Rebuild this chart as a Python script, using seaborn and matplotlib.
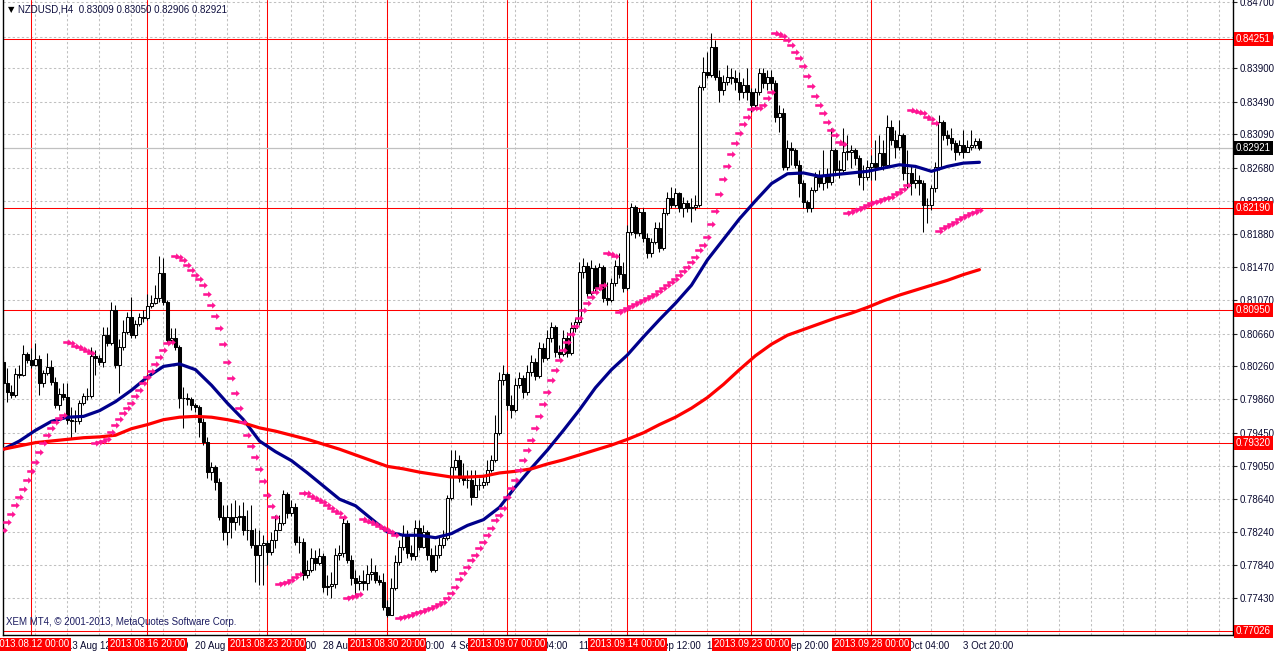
import numpy as np
import pandas as pd
import matplotlib
matplotlib.use("Agg")
import matplotlib.pyplot as plt
from matplotlib.path import Path
import seaborn as sns

sns.set_style("white")
plt.rcParams['font.family'] = ['Liberation Sans', 'DejaVu Sans']

# NZDUSD H4 candles (open of each bar = previous close)
first_open = 0.8031
close = [0.8006, 0.7995, 0.7991, 0.8017, 0.8016, 0.8041, 0.8034, 0.8028, 0.8035, 0.8006,
         0.8018, 0.8025, 0.8007, 0.7979, 0.7992, 0.7989, 0.7961, 0.7959, 0.7959, 0.7981,
         0.7990, 0.7990, 0.8039, 0.8036, 0.8031, 0.8064, 0.8055, 0.8095, 0.8028, 0.8050,
         0.8068, 0.8086, 0.8064, 0.8078, 0.8086, 0.8085, 0.8100, 0.8103, 0.8109, 0.8140,
         0.8105, 0.8058, 0.8061, 0.8050, 0.7987, 0.7987, 0.7986, 0.7979, 0.7976, 0.7958,
         0.7934, 0.7897, 0.7903, 0.7885, 0.7842, 0.7824, 0.7842, 0.7836, 0.7842, 0.7843,
         0.7826, 0.7826, 0.7808, 0.7796, 0.7808, 0.7811, 0.7800, 0.7814, 0.7826, 0.7835,
         0.7870, 0.7847, 0.7854, 0.7812, 0.7812, 0.7772, 0.7778, 0.7792, 0.7786, 0.7795,
         0.7757, 0.7758, 0.7761, 0.7796, 0.7798, 0.7835, 0.7790, 0.7768, 0.7762, 0.7764,
         0.7762, 0.7773, 0.7775, 0.7765, 0.7763, 0.7732, 0.7723, 0.7756, 0.7787, 0.7806,
         0.7820, 0.7798, 0.7795, 0.7829, 0.7806, 0.7824, 0.7796, 0.7778, 0.7796, 0.7808,
         0.7817, 0.7865, 0.7903, 0.7912, 0.7890, 0.7887, 0.7887, 0.7867, 0.7881, 0.7881,
         0.7885, 0.7900, 0.7912, 0.7945, 0.8009, 0.8017, 0.7979, 0.7973, 0.8003, 0.8012,
         0.7995, 0.8019, 0.8031, 0.8014, 0.8048, 0.8036, 0.8061, 0.8074, 0.8044, 0.8041,
         0.8061, 0.8042, 0.8073, 0.8080, 0.8141, 0.8148, 0.8116, 0.8146, 0.8122, 0.8147,
         0.8109, 0.8107, 0.8128, 0.8148, 0.8139, 0.8122, 0.8190, 0.8220, 0.8189, 0.8214,
         0.8183, 0.8164, 0.8178, 0.8195, 0.8170, 0.8213, 0.8231, 0.8223, 0.8238, 0.8219,
         0.8225, 0.8219, 0.8220, 0.8223, 0.8367, 0.8385, 0.8382, 0.8416, 0.8379, 0.8363,
         0.8373, 0.8379, 0.8378, 0.8373, 0.8361, 0.8369, 0.8361, 0.8345, 0.8361, 0.8384,
         0.8372, 0.8379, 0.8372, 0.8330, 0.8335, 0.8269, 0.8292, 0.8290, 0.8272, 0.8250,
         0.8227, 0.8219, 0.8241, 0.8257, 0.8250, 0.8260, 0.8251, 0.8290, 0.8266, 0.8266,
         0.8288, 0.8288, 0.8290, 0.8280, 0.8257, 0.8257, 0.8269, 0.8274, 0.8269, 0.8286,
         0.8272, 0.8318, 0.8302, 0.8294, 0.8308, 0.8262, 0.8262, 0.8250, 0.8253, 0.8250,
         0.8223, 0.8223, 0.8244, 0.8269, 0.8324, 0.8308, 0.8305, 0.8299, 0.8288, 0.8296,
         0.8288, 0.8294, 0.8296, 0.83009, 0.82921]
high = [0.8039, 0.8024, 0.8003, 0.8024, 0.8028, 0.8052, 0.8044, 0.8048, 0.8055, 0.8040,
        0.8022, 0.8042, 0.8034, 0.8013, 0.8000, 0.8006, 0.8006, 0.7976, 0.7973, 0.7985,
        0.7994, 0.8000, 0.8050, 0.8046, 0.8040, 0.8074, 0.8074, 0.8105, 0.8101, 0.8059,
        0.8083, 0.8092, 0.8111, 0.8083, 0.8091, 0.8095, 0.8114, 0.8113, 0.8125, 0.8161,
        0.8158, 0.8107, 0.8073, 0.8073, 0.8052, 0.8001, 0.7994, 0.7989, 0.7981, 0.7979,
        0.7963, 0.7940, 0.7909, 0.7906, 0.7890, 0.7857, 0.7857, 0.7859, 0.7863, 0.7857,
        0.7861, 0.7851, 0.7857, 0.7829, 0.7826, 0.7820, 0.7814, 0.7824, 0.7845, 0.7845,
        0.7875, 0.7873, 0.7863, 0.7859, 0.7819, 0.7817, 0.7790, 0.7804, 0.7802, 0.7804,
        0.7798, 0.7772, 0.7775, 0.7804, 0.7808, 0.7841, 0.7839, 0.7796, 0.7778, 0.7772,
        0.7778, 0.7784, 0.7792, 0.7784, 0.7772, 0.7774, 0.7741, 0.7768, 0.7796, 0.7814,
        0.7832, 0.7826, 0.7808, 0.7839, 0.7839, 0.7832, 0.7826, 0.7804, 0.7808, 0.7818,
        0.7826, 0.7869, 0.7924, 0.7924, 0.7918, 0.7908, 0.7900, 0.7900, 0.7900, 0.7890,
        0.7894, 0.7912, 0.7918, 0.7967, 0.8019, 0.8028, 0.8019, 0.7991, 0.8012, 0.8019,
        0.8016, 0.8028, 0.8040, 0.8036, 0.8056, 0.8055, 0.8070, 0.8080, 0.8077, 0.8052,
        0.8070, 0.8068, 0.8080, 0.8085, 0.8153, 0.8158, 0.8153, 0.8156, 0.8150, 0.8152,
        0.8150, 0.8129, 0.8134, 0.8156, 0.8164, 0.8153, 0.8199, 0.8225, 0.8223, 0.8219,
        0.8219, 0.8189, 0.8183, 0.8202, 0.8202, 0.8219, 0.8239, 0.8245, 0.8244, 0.8239,
        0.8233, 0.8229, 0.8231, 0.8235, 0.8369, 0.8403, 0.8410, 0.8433, 0.8424, 0.8388,
        0.8382, 0.8394, 0.8390, 0.8388, 0.8385, 0.8378, 0.8390, 0.8366, 0.8366, 0.8390,
        0.8390, 0.8388, 0.8388, 0.8375, 0.8345, 0.8341, 0.8302, 0.8300, 0.8292, 0.8278,
        0.8253, 0.8229, 0.8245, 0.8263, 0.8266, 0.8290, 0.8268, 0.8317, 0.8292, 0.8278,
        0.8317, 0.8308, 0.8296, 0.8292, 0.8284, 0.8272, 0.8278, 0.8284, 0.8302, 0.8308,
        0.8302, 0.8333, 0.8327, 0.8314, 0.8327, 0.8311, 0.8290, 0.8272, 0.8268, 0.8260,
        0.8253, 0.8231, 0.8247, 0.8275, 0.8333, 0.8327, 0.8314, 0.8317, 0.8302, 0.8302,
        0.8314, 0.8302, 0.8314, 0.8305, 0.83050]
low = [0.8002, 0.7983, 0.7987, 0.7989, 0.8012, 0.8014, 0.8030, 0.8024, 0.8026, 0.7991,
       0.8001, 0.8016, 0.8003, 0.7975, 0.7973, 0.7985, 0.7956, 0.7939, 0.7946, 0.7956,
       0.7979, 0.7985, 0.7987, 0.8016, 0.8028, 0.8025, 0.8051, 0.8052, 0.8024, 0.7994,
       0.8046, 0.8066, 0.8061, 0.8061, 0.8075, 0.8080, 0.8083, 0.8097, 0.8102, 0.8105,
       0.8101, 0.8055, 0.8056, 0.8046, 0.7975, 0.7951, 0.7979, 0.7973, 0.7970, 0.7940,
       0.7930, 0.7890, 0.7887, 0.7875, 0.7839, 0.7814, 0.7808, 0.7817, 0.7826, 0.7832,
       0.7820, 0.7814, 0.7804, 0.7763, 0.7759, 0.7759, 0.7784, 0.7796, 0.7804, 0.7826,
       0.7832, 0.7841, 0.7843, 0.7808, 0.7798, 0.7765, 0.7768, 0.7775, 0.7778, 0.7784,
       0.7751, 0.7747, 0.7743, 0.7756, 0.7790, 0.7793, 0.7786, 0.7759, 0.7747, 0.7753,
       0.7753, 0.7753, 0.7765, 0.7762, 0.7759, 0.7729, 0.7720, 0.7726, 0.7753, 0.7784,
       0.7802, 0.7792, 0.7790, 0.7790, 0.7802, 0.7804, 0.7790, 0.7775, 0.7775, 0.7792,
       0.7804, 0.7814, 0.7863, 0.7900, 0.7885, 0.7881, 0.7878, 0.7857, 0.7867, 0.7875,
       0.7878, 0.7881, 0.7897, 0.7909, 0.7942, 0.8003, 0.7973, 0.7963, 0.7970, 0.8000,
       0.7987, 0.7991, 0.8014, 0.8009, 0.8012, 0.8031, 0.8034, 0.8056, 0.8037, 0.8036,
       0.8039, 0.8037, 0.8040, 0.8068, 0.8077, 0.8134, 0.8111, 0.8113, 0.8117, 0.8119,
       0.8105, 0.8101, 0.8105, 0.8124, 0.8134, 0.8117, 0.8119, 0.8186, 0.8183, 0.8185,
       0.8178, 0.8158, 0.8159, 0.8175, 0.8166, 0.8168, 0.8211, 0.8219, 0.8220, 0.8214,
       0.8208, 0.8214, 0.8202, 0.8217, 0.8220, 0.8363, 0.8378, 0.8379, 0.8375, 0.8349,
       0.8357, 0.8369, 0.8371, 0.8363, 0.8351, 0.8353, 0.8351, 0.8336, 0.8341, 0.8357,
       0.8366, 0.8363, 0.8363, 0.8324, 0.8312, 0.8266, 0.8266, 0.8272, 0.8268, 0.8233,
       0.8219, 0.8214, 0.8214, 0.8239, 0.8245, 0.8241, 0.8244, 0.8247, 0.8260, 0.8256,
       0.8263, 0.8278, 0.8268, 0.8272, 0.8247, 0.8241, 0.8253, 0.8253, 0.8253, 0.8268,
       0.8266, 0.8268, 0.8296, 0.8280, 0.8290, 0.8253, 0.8244, 0.8235, 0.8244, 0.8235,
       0.8190, 0.8201, 0.8217, 0.8239, 0.8266, 0.8302, 0.8296, 0.8290, 0.8278, 0.8284,
       0.8280, 0.8288, 0.8290, 0.8292, 0.82906]

# Parabolic SAR, one dot per bar
sar = [0.7826, 0.7836, 0.7846, 0.7857, 0.7867, 0.7876, 0.7887, 0.7898, 0.7909, 0.7922,
       0.7933, 0.7942, 0.7951, 0.7958, 0.7963, 0.7967,
       0.8056, 0.8055, 0.8051, 0.8050, 0.8047, 0.8045, 0.8042,
       0.7933, 0.7934, 0.7935, 0.7937, 0.7946, 0.7955, 0.7962, 0.7969, 0.7975, 0.7981,
       0.7990, 0.7997, 0.8006, 0.8013, 0.8020, 0.8029, 0.8037, 0.8046, 0.8055, 0.8056,
       0.8161, 0.8159, 0.8156, 0.8150, 0.8144, 0.8138, 0.8133, 0.8125, 0.8114, 0.8101,
       0.8087, 0.8073, 0.8053, 0.8031, 0.8012, 0.7994, 0.7975, 0.7958, 0.7942, 0.7929,
       0.7915, 0.7901, 0.7886, 0.7869, 0.7856, 0.7842,
       0.7761, 0.7762, 0.7763, 0.7765, 0.7769, 0.7773,
       0.7872, 0.7872, 0.7868, 0.7865, 0.7863, 0.7861, 0.7857, 0.7853, 0.7850, 0.7847, 0.7842,
       0.7743, 0.7745, 0.7746, 0.7748,
       0.7840, 0.7837, 0.7836, 0.7834, 0.7831, 0.7829, 0.7826, 0.7824, 0.7820,
       0.7719, 0.7720, 0.7721, 0.7723, 0.7725, 0.7726, 0.7728, 0.7730, 0.7731, 0.7734,
       0.7736, 0.7739, 0.7743, 0.7750, 0.7757, 0.7767, 0.7774, 0.7781, 0.7790, 0.7796,
       0.7804, 0.7812, 0.7820, 0.7829, 0.7839, 0.7845, 0.7853, 0.7867, 0.7878, 0.7887,
       0.7900, 0.7912, 0.7924, 0.7936, 0.7951, 0.7965, 0.7980, 0.7995, 0.8009, 0.8022,
       0.8034, 0.8046, 0.8056, 0.8066, 0.8075, 0.8085, 0.8095, 0.8103, 0.8111, 0.8117,
       0.8122, 0.8125,
       0.8164, 0.8163, 0.8161,
       0.8092, 0.8095, 0.8097, 0.8100, 0.8102, 0.8105, 0.8107, 0.8109, 0.8112, 0.8114,
       0.8118, 0.8122, 0.8125, 0.8129, 0.8133, 0.8138, 0.8142, 0.8147, 0.8153, 0.8159,
       0.8168, 0.8174, 0.8184, 0.8200, 0.8216, 0.8236, 0.8255, 0.8270, 0.8285, 0.8299,
       0.8311, 0.8322, 0.8330, 0.8340, 0.8341, 0.8341, 0.8345, 0.8353, 0.8361,
       0.8433, 0.8432, 0.8429, 0.8424, 0.8418, 0.8410, 0.8402, 0.8392, 0.8380, 0.8368,
       0.8356, 0.8345, 0.8335, 0.8324, 0.8315, 0.8308, 0.8300, 0.8297,
       0.8213, 0.8214, 0.8217, 0.8218, 0.8220, 0.8223, 0.8225, 0.8227, 0.8228, 0.8230,
       0.8231, 0.8233, 0.8236, 0.8239, 0.8242, 0.8247,
       0.8339, 0.8338, 0.8336, 0.8335, 0.8330, 0.8328, 0.8323,
       0.8191, 0.8195, 0.8197, 0.8200, 0.8202, 0.8206, 0.8208, 0.8211, 0.8213, 0.8214, 0.8217]

# moving averages, sampled every 4th bar
ma_bars = list(range(0, 245, 4))
ma_blue = [0.7925, 0.7935, 0.7948, 0.7959, 0.7964, 0.7965, 0.7972, 0.7983, 0.7997, 0.8013,
           0.8026, 0.8029, 0.8022, 0.8003, 0.7981, 0.7961, 0.7935, 0.7922, 0.7911, 0.7896,
           0.7880, 0.7864, 0.7856, 0.7840, 0.7824, 0.7820, 0.7820, 0.7817, 0.7822, 0.7832,
           0.7839, 0.7854, 0.7879, 0.7902, 0.7924, 0.7948, 0.7973, 0.8000, 0.8022, 0.8040,
           0.8062, 0.8083, 0.8103, 0.8125, 0.8156, 0.8181, 0.8206, 0.8228, 0.8249, 0.8261,
           0.8262, 0.8258, 0.8260, 0.8262, 0.8264, 0.8268, 0.8272, 0.8270, 0.8264, 0.8270,
           0.8274, 0.8275]
ma_red = [0.7925, 0.7929, 0.7933, 0.7935, 0.7937, 0.7939, 0.7940, 0.7942, 0.7950, 0.7955,
          0.7961, 0.7964, 0.7965, 0.7964, 0.7961, 0.7957, 0.7951, 0.7947, 0.7942, 0.7937,
          0.7931, 0.7925, 0.7918, 0.7911, 0.7904, 0.7901, 0.7897, 0.7894, 0.7891, 0.7891,
          0.7892, 0.7896, 0.7898, 0.7901, 0.7907, 0.7912, 0.7918, 0.7924, 0.7930, 0.7937,
          0.7945, 0.7955, 0.7964, 0.7975, 0.7988, 0.8004, 0.8022, 0.8039, 0.8053, 0.8064,
          0.8071, 0.8078, 0.8085, 0.8091, 0.8098, 0.8106, 0.8113, 0.8119, 0.8125, 0.8131,
          0.8138, 0.8144]

price_ticks = [0.84700, 0.84280, 0.83900, 0.83490, 0.83090, 0.82680, 0.82280, 0.81880,
               0.81470, 0.81070, 0.80660, 0.80260, 0.79860, 0.79450, 0.79050, 0.78640,
               0.78240, 0.77840, 0.77430]
level_lines = [0.84251, 0.82190, 0.80950, 0.79320, 0.77026]
bid = 0.82921
date_bars = [7, 36, 66, 96, 126, 156, 187, 217]
date_labels = ["2013.08.12 00:00", "2013.08.16 20:00", "2013.08.23 20:00", "2013.08.30 20:00",
               "2013.09.07 00:00", "2013.09.14 00:00", "2013.09.23 00:00", "2013.09.28 00:00"]
tick_bars = list(range(0, 241, 16))
tick_labels = ["8 Aug 2013", "13 Aug 12:00", "16 Aug 04:00", "20 Aug 16:00", "23 Aug 12:00",
               "28 Aug 04:00", "30 Aug 20:00", "4 Sep 12:00", "9 Sep 04:00", "11 Sep 20:00",
               "16 Sep 12:00", "19 Sep 04:00", "23 Sep 20:00", "26 Sep 12:00", "1 Oct 04:00",
               "3 Oct 20:00"]

df = pd.DataFrame({"bar": np.arange(len(close)), "open": [first_open] + close[:-1],
                   "high": high, "low": low, "close": close, "sar": sar})
ma = pd.DataFrame({"bar": ma_bars, "blue": ma_blue, "red": ma_red})

fig = plt.figure(figsize=(12.76, 6.52), dpi=100)
ax = fig.add_axes([2.7 / 1276, 17 / 652, (1233 - 2.7) / 1276, 635 / 652])
ax.set_xlim(-0.2, 307.4)
ax.set_ylim(0.76983, 0.8473)

# grid
grid_kw = dict(color="#c0c0c0", lw=0.75, ls=(0, (2.2, 2.2)), zorder=0)
for b in range(8, 308, 8):
    ax.axvline(b, **grid_kw)
for p in price_ticks:
    ax.axhline(p, **grid_kw)

# red marker lines and bid line
for b in date_bars:
    ax.axvline(b, color="#ff0000", lw=0.75, zorder=1)
for p in level_lines:
    ax.axhline(p, color="#ff0000", lw=0.75, zorder=1)
ax.axhline(bid, color="#c0c0c0", lw=0.9, zorder=1)

# candles
lo = df[["low", "open", "close"]].min(axis=1)
hi = df[["high", "open", "close"]].max(axis=1)
ax.vlines(df["bar"], lo, hi, color="black", lw=0.75, zorder=3)
body_lo = df[["open", "close"]].min(axis=1)
body_h = (df["close"] - df["open"]).abs().clip(lower=0.00003)
colors = np.where(df["close"] >= df["open"], "white", "black")
ax.bar(df["bar"], body_h, bottom=body_lo, width=0.6, color=colors,
       edgecolor="black", linewidth=0.75, zorder=4)

# moving averages
sns.lineplot(data=ma, x="bar", y="blue", color="#00008b", lw=2.3, ax=ax, zorder=5)
sns.lineplot(data=ma, x="bar", y="red", color="#ff0000", lw=2.3, ax=ax, zorder=5)

# SAR arrows
arrow = Path([(-1, -0.3), (0.15, -0.3), (0.15, -0.75), (1, 0), (0.15, 0.75),
              (0.15, 0.3), (-1, 0.3), (-1, -0.3)],
             [Path.MOVETO] + [Path.LINETO] * 6 + [Path.CLOSEPOLY])
sns.scatterplot(data=df, x="bar", y="sar", marker=arrow, s=38, color="#ff1493",
                linewidth=0, ax=ax, zorder=6, legend=False)

ax.set_xlabel("")
ax.set_ylabel("")
for s in ["left", "right", "bottom"]:
    ax.spines[s].set_color("black")
    ax.spines[s].set_linewidth(1)
ax.spines["top"].set_visible(False)

txt_color = "#0a0a30"
ax.yaxis.tick_right()
ax.set_yticks(price_ticks)
ax.set_yticklabels([f"{p:.5f}" for p in price_ticks])
ax.tick_params(axis="y", length=3, width=0.8, pad=2, labelsize=7, labelcolor=txt_color)
ax.set_xticks(tick_bars)
ax.set_xticklabels(tick_labels, ha="left")
ax.tick_params(axis="x", length=3, width=0.8, pad=1.5, labelsize=7, labelcolor=txt_color)

# price tags on the right
for p in level_lines:
    ax.annotate(f"{p:.5f}", xy=(1, p), xycoords=("axes fraction", "data"), xytext=(2, 0),
                textcoords="offset points", ha="left", va="center", fontsize=7, color="white",
                bbox=dict(boxstyle="square,pad=0.2", fc="red", ec="none"),
                annotation_clip=False, zorder=10)
ax.annotate(f"{bid:.5f}", xy=(1, bid), xycoords=("axes fraction", "data"), xytext=(2, 0),
            textcoords="offset points", ha="left", va="center", fontsize=7, color="white",
            bbox=dict(boxstyle="square,pad=0.2", fc="black", ec="none"),
            annotation_clip=False, zorder=10)

# date tags at the bottom (they cover some time labels, as on the terminal)
for b, t in zip(date_bars, date_labels):
    ax.annotate(t, xy=(b, 0), xycoords=("data", "axes fraction"), xytext=(0, -6.6),
                textcoords="offset points", ha="center", va="center", fontsize=7, color="white",
                bbox=dict(boxstyle="square,pad=0.15", fc="red", ec="none"),
                annotation_clip=False, zorder=10)

ax.text(0.0043, 0.9858, "\u25bc", transform=ax.transAxes, fontsize=6, family="DejaVu Sans",
        ha="left", va="center", color="black")
ax.text(0.0124, 0.9858, "NZDUSD,H4  0.83009 0.83050 0.82906 0.82921", transform=ax.transAxes,
        fontsize=7, ha="left", va="center", color="#101040")
ax.text(0.0027, 0.021, "XEM MT4, \u00a9 2001-2013, MetaQuotes Software Corp.",
        transform=ax.transAxes, fontsize=7, ha="left", va="center", color="#1c1c60")

fig.savefig("out.png", dpi=100)
